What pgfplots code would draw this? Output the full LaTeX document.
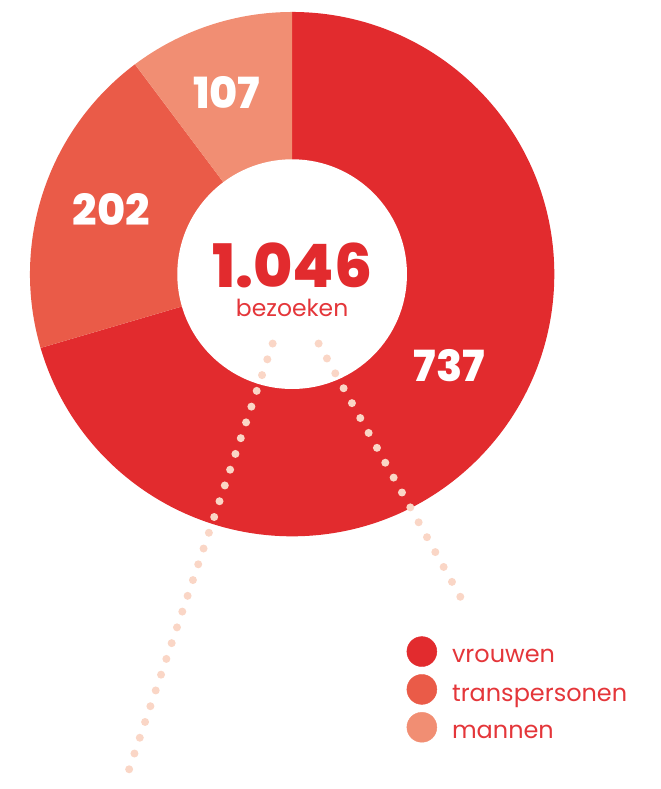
\documentclass[border=0pt]{standalone}
\usepackage{pgfplots}
\pgfplotsset{compat=1.18}
\usepackage{fontspec}
\setmainfont{Poppins}
\newfontfamily\heavy{Poppins ExtraBold}
\definecolor{cV}{HTML}{E22B2E}
\definecolor{cT}{HTML}{EA5B48}
\definecolor{cM}{HTML}{F18E73}
\definecolor{cDot}{HTML}{FAD6C6}
\definecolor{cTxt}{HTML}{E4363A}
\begin{document}
\begin{tikzpicture}
% data: visits per group
\def\vV{737}\def\vT{202}\def\vM{107}
\pgfmathsetmacro{\tot}{\vV+\vT+\vM}
\pgfmathsetmacro{\aA}{90}
\pgfmathsetmacro{\aB}{90-360*(\vV/\tot)}
\pgfmathsetmacro{\aC}{\aB-360*(\vT/\tot)}
\pgfmathsetmacro{\aD}{\aC-360*(\vM/\tot)}
\begin{axis}[
  width=661pt, height=789pt, scale only axis,
  xmin=0, xmax=661, ymin=0, ymax=789,
  hide axis, clip=false,
  legend style={draw=none, fill=none, at={(axis cs:407,152)}, anchor=north west,
    inner sep=0pt, nodes={inner sep=1pt},
    font=\fontsize{24}{24}\selectfont\color{cTxt}, row sep=7.5pt,
    /tikz/every odd column/.append style={column sep=14pt}},
  legend cell align=left,
  legend image code/.code={\fill (15pt,5pt) circle[radius=15pt];},
]
\path (axis cs:0,0) rectangle (axis cs:661,789);
\def\cx{292.5}\def\cy{514.5}\def\R{262.5}\def\r{115}
\fill[cV] (axis cs:\cx,\cy) -- ++(\aA:\R pt) arc[start angle=\aA, end angle=\aB, radius=\R pt] -- cycle;
\fill[cT] (axis cs:\cx,\cy) -- ++(\aB:\R pt) arc[start angle=\aB, end angle=\aC, radius=\R pt] -- cycle;
\fill[cM] (axis cs:\cx,\cy) -- ++(\aC:\R pt) arc[start angle=\aC, end angle=\aD, radius=\R pt] -- cycle;
\fill[white] (axis cs:\cx,\cy) circle[radius=\r pt];
\addplot[draw=cDot, line width=8pt, line cap=round, dash pattern=on 0pt off 16.66pt, forget plot]
  coordinates {(273,445) (124,3)};
\addplot[draw=cDot, line width=8pt, line cap=round, dash pattern=on 0pt off 17.09pt, forget plot]
  coordinates {(319,445) (469,177)};
\node[text=white, font=\heavy\fontsize{43}{43}\selectfont] at (axis cs:450,422.5) {\vV};
\node[text=white, font=\heavy\fontsize{43}{43}\selectfont] at (axis cs:111.5,579) {\vT};
\node[text=white, font=\heavy\fontsize{43}{43}\selectfont] at (axis cs:227,696) {\vM};
\node[inner sep=0pt, text=cV, font=\heavy\fontsize{60}{60}\selectfont] at (axis cs:292.5,523.5) {1.046};
\node[inner sep=0pt, text=cTxt, font=\fontsize{23.5}{23.5}\selectfont] at (axis cs:292.5,480.5) {bezoeken};
\addlegendimage{color=cV}
\addlegendentry{vrouwen}
\addlegendimage{color=cT}
\addlegendentry{transpersonen}
\addlegendimage{color=cM}
\addlegendentry{mannen}
\end{axis}
\end{tikzpicture}
\end{document}
